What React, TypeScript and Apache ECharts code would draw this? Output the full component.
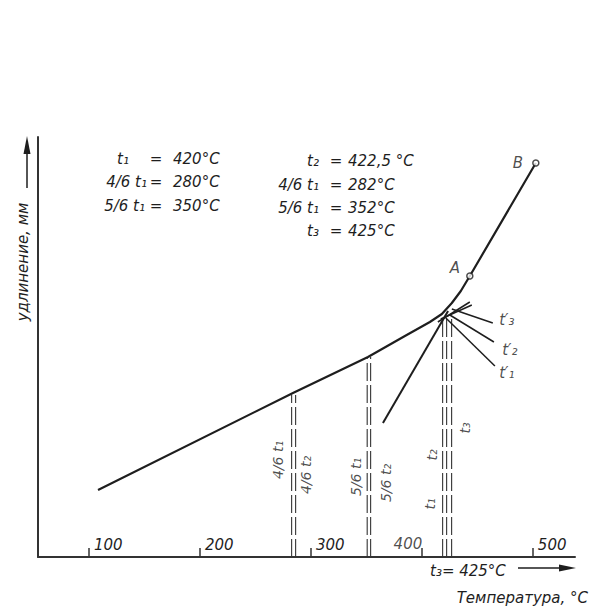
import React, { useEffect, useRef } from "react";
import * as echarts from "echarts";

const FONT = '"DejaVu Sans", sans-serif';
const INK = "#1e1e1e";

// x axis: temperature, °C
const tempTicks = [100, 200, 300, 400, 500];
const tickLabelsRight = [100, 200, 300, 500]; // labels drawn to the right of their tick
const xMin = 54;
const xMax = 538;
const yMax = 420;

// main elongation curve (temperature, elongation in arbitrary mm units)
const curveT = [108.1, 283.8, 351.4, 384.7, 407.2, 418.0, 427.0, 435.1, 443.2, 502.7];
const curveY = [67, 164, 200, 221, 235, 243, 254, 266, 281, 394];

// steep straight line rising to the knee
const steepT = [364.9, 423.6];
const steepY = [134, 246];

// tangent lines at the knee
const tan3T = [427.0, 463.9];
const tan3Y = [248, 234];
const tan2T = [425.2, 464.9];
const tan2Y = [242, 215];
const tan1T = [421.6, 465.8];
const tan1Y = [239, 191];
const strokeAT = [414.4, 443.2];
const strokeAY = [235, 255];
const strokeBT = [417.0, 445.0];
const strokeBY = [238, 252];

// dashed verticals (4/6 t, 5/6 t, t1 t2 t3)
const dashT = [282.6, 286.2, 350.7, 353.8, 418.7, 422.3, 426.8];
const dashTop = [162, 162, 200, 200, 239, 239, 239];

// marked points A and B
const pointNames = ["A", "B"];
const pointT = [443.2, 502.7];
const pointY = [281, 394];

// annotation labels
const annText = ["4/6 t₁", "4/6 t₂", "5/6 t₁", "5/6 t₂", "t₁", "t₂", "t₃", "A", "B", "t′₃", "t′₂", "t′₁", "400"];
const annT = [270.3, 295.5, 340.5, 367.6, 407.5, 409.0, 438.7, 429.7, 486.5, 476.6, 479.3, 476.6, 387.4];
const annY = [97, 82, 80, 74, 53, 102, 129, 289, 394, 237, 207, 184, 13];
const annRot = [90, 90, 90, 90, 90, 90, 90, 0, 0, 0, 0, 0, 0];

// formula block
const leftRowsL = ["t₁", "4/6 t₁", "5/6 t₁"];
const leftRowsR = ["420°C", "280°C", "350°C"];
const rightRowsL = ["t₂", "4/6 t₁", "5/6 t₁", "t₃"];
const rightRowsR = ["422,5 °C", "282°C", "352°C", "425°C"];

const zip = (a: number[], b: number[]) => a.map((v, i) => [v, b[i]]);

export default function App() {
  const ref = useRef<HTMLDivElement>(null);
  useEffect(() => {
    if (!ref.current) return;
    const chart = echarts.init(ref.current, undefined, { renderer: "svg" });
    const txt = { fontFamily: FONT, fontStyle: "italic", fontSize: 15, fill: INK };

    const series: any[] = [];
    dashT.forEach((t, i) => {
      series.push({
        type: "line",
        data: [[t, 0], [t, dashTop[i]]],
        symbol: "none",
        lineStyle: { color: "#333", width: 1.1, type: [18, 4] },
        z: 1,
      });
    });
    series.push({
      type: "line",
      data: zip(curveT, curveY),
      symbol: "none",
      smooth: false,
      lineStyle: { color: INK, width: 2.2, join: "round" },
      z: 3,
    });
    [
      [steepT, steepY, 2],
      [tan3T, tan3Y, 1.5],
      [tan2T, tan2Y, 1.5],
      [tan1T, tan1Y, 1.5],
      [strokeAT, strokeAY, 1.5],
      [strokeBT, strokeBY, 1.5],
    ].forEach(([tt, yy, w]: any) => {
      series.push({
        type: "line",
        data: zip(tt, yy),
        symbol: "none",
        lineStyle: { color: INK, width: w },
        z: 3,
      });
    });
    series.push({
      type: "scatter",
      data: pointT.map((t, i) => ({ name: pointNames[i], value: [t, pointY[i]] })),
      symbol: "circle",
      symbolSize: 6,
      itemStyle: { color: "#fff", borderColor: INK, borderWidth: 1.5 },
      z: 5,
    });
    series.push({
      type: "scatter",
      symbol: "circle",
      symbolSize: 1,
      itemStyle: { color: "rgba(0,0,0,0)" },
      z: 6,
      data: annText.map((s, i) => ({
        value: [annT[i], annY[i]],
        label: {
          show: true,
          position: "inside",
          formatter: s,
          rotate: annRot[i],
          fontFamily: FONT,
          fontStyle: "italic",
          fontSize: annRot[i] ? 14 : 15,
          color: INK,
        },
      })),
    });

    const graphic: any[] = [];
    const leftY = [159, 182, 206];
    const leftLX = [129, 147, 145];
    leftRowsL.forEach((s, i) => {
      graphic.push({ type: "text", x: leftLX[i], y: leftY[i], style: { ...txt, text: s, align: "right", verticalAlign: "middle" } });
      graphic.push({ type: "text", x: 156, y: leftY[i], style: { ...txt, text: "=", align: "center", verticalAlign: "middle" } });
      graphic.push({ type: "text", x: 173, y: leftY[i], style: { ...txt, text: leftRowsR[i], align: "left", verticalAlign: "middle" } });
    });
    const rightY = [161, 185, 208, 231];
    rightRowsL.forEach((s, i) => {
      graphic.push({ type: "text", x: 319, y: rightY[i], style: { ...txt, text: s, align: "right", verticalAlign: "middle" } });
      graphic.push({ type: "text", x: 336, y: rightY[i], style: { ...txt, text: "=", align: "center", verticalAlign: "middle" } });
      graphic.push({ type: "text", x: 348, y: rightY[i], style: { ...txt, text: rightRowsR[i], align: "left", verticalAlign: "middle" } });
    });
    // y axis title and arrow
    graphic.push({ type: "text", x: 23, y: 262, rotation: Math.PI / 2, style: { ...txt, text: "удлинение, мм", align: "center", verticalAlign: "middle" } });
    graphic.push({ type: "line", shape: { x1: 27, y1: 188, x2: 27, y2: 150 }, style: { stroke: INK, lineWidth: 1.5 } });
    graphic.push({ type: "polygon", shape: { points: [[27, 136], [23.5, 154], [30.5, 154]] }, style: { fill: INK } });
    // x axis title and arrow
    graphic.push({ type: "text", x: 430, y: 571, style: { ...txt, text: "t₃= 425°C", align: "left", verticalAlign: "middle" } });
    graphic.push({ type: "line", shape: { x1: 518, y1: 568, x2: 562, y2: 568 }, style: { stroke: INK, lineWidth: 1.5 } });
    graphic.push({ type: "polygon", shape: { points: [[576, 568], [559, 564.5], [559, 571.5]] }, style: { fill: INK } });
    graphic.push({ type: "text", x: 588, y: 598, style: { ...txt, text: "Температура, °C", align: "right", verticalAlign: "middle" } });

    chart.setOption({
      animation: false,
      backgroundColor: "#fff",
      grid: { left: 38, right: 16, top: 137, bottom: 51 },
      xAxis: {
        type: "value",
        min: xMin,
        max: xMax,
        axisLine: { show: true, onZero: false, lineStyle: { color: "#333", width: 2 } },
        axisTick: { show: true, inside: true, length: 9, customValues: tempTicks, lineStyle: { color: "#333", width: 1.5 } },
        axisLabel: {
          show: true,
          inside: true,
          customValues: tickLabelsRight,
          margin: 5,
          align: "left",
          padding: [0, 0, 0, 5],
          fontFamily: FONT,
          fontStyle: "italic",
          fontSize: 15,
          color: INK,
        },
        splitLine: { show: false },
      },
      yAxis: {
        type: "value",
        min: 0,
        max: yMax,
        axisLine: { show: true, onZero: false, lineStyle: { color: "#333", width: 2 } },
        axisTick: { show: false },
        axisLabel: { show: false },
        splitLine: { show: false },
      },
      series,
      graphic,
    });
    return () => chart.dispose();
  }, []);
  return <div ref={ref} style={{ position: "fixed", left: 0, top: 0, width: 591, height: 608 }} />;
}
